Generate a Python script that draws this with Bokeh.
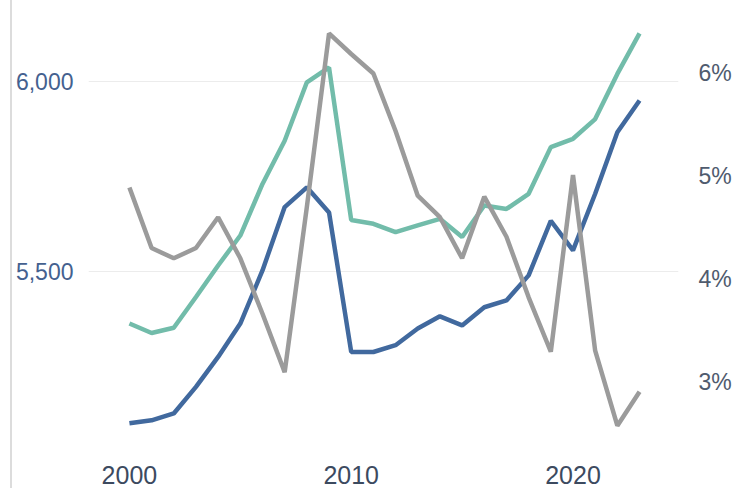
from bokeh.plotting import figure
from bokeh.models import (LinearAxis, Range1d, FixedTicker, NumeralTickFormatter,
                          PrintfTickFormatter, ColumnDataSource)
from bokeh.embed import file_html
from bokeh.resources import INLINE

years = list(range(2000, 2024))
blue_vals = [5099, 5107, 5125, 5195, 5274, 5362, 5502, 5669, 5721, 5655, 5287, 5287,
             5305, 5349, 5381, 5357, 5405, 5423, 5489, 5633, 5555, 5704, 5866, 5950]
teal_vals = [5362, 5337, 5351, 5432, 5515, 5594, 5730, 5844, 5998, 6037, 5635, 5625,
             5603, 5621, 5638, 5590, 5673, 5664, 5704, 5827, 5849, 5901, 6020, 6127]
gray_pct = [4.89, 4.30, 4.20, 4.30, 4.60, 4.20, 3.66, 3.09, 4.70, 6.39, 6.19, 6.00,
            5.44, 4.81, 4.60, 4.20, 4.80, 4.41, 3.82, 3.29, 5.01, 3.30, 2.57, 2.90]
x_ticks = [2000, 2010, 2020]
left_ticks = [5500, 6000]
right_ticks = [3, 4, 5, 6]

src = ColumnDataSource(dict(year=years, blue=blue_vals, teal=teal_vals, gray=gray_pct))

p = figure(width=722, height=488, output_backend="svg", toolbar_location=None,
           x_range=Range1d(1998.155, 2024.757), y_range=Range1d(5027.4, 6213.5),
           min_border_left=76, min_border_right=47, min_border_top=0, min_border_bottom=38,
           styles={"margin-left": "10px", "border-left": "2px solid #dcdcdc"})
p.extra_y_ranges = {"pct": Range1d(2.328, 6.711)}

FONT = "Liberation Sans"

p.line("year", "teal", source=src, line_color="#72bcaa", line_width=4.5)
p.line("year", "blue", source=src, line_color="#41699e", line_width=4.5)
p.line("year", "gray", source=src, y_range_name="pct", line_color="#9b9b9b", line_width=4.5)

p.outline_line_color = None
p.xgrid.grid_line_color = None
p.ygrid.grid_line_color = "#ececec"
p.ygrid.grid_line_width = 1

xa = p.xaxis[0]
xa.ticker = FixedTicker(ticks=x_ticks)
xa.major_label_text_font = FONT
xa.major_label_text_font_size = "25px"
xa.major_label_text_color = "#3c4a5f"
xa.major_label_standoff = 15

ya = p.yaxis[0]
ya.ticker = FixedTicker(ticks=left_ticks)
ya.formatter = NumeralTickFormatter(format="0,0")
ya.major_label_text_font = FONT
ya.major_label_text_font_size = "23px"
ya.major_label_text_color = "#44618f"
ya.major_label_standoff = 15

ra = LinearAxis(y_range_name="pct", ticker=FixedTicker(ticks=right_ticks),
                formatter=PrintfTickFormatter(format="%d%%"))
ra.major_label_text_font = FONT
ra.major_label_text_font_size = "23px"
ra.major_label_text_color = "#4f5b6e"
ra.major_label_standoff = 20
p.add_layout(ra, "right")

for ax in [xa, ya, ra]:
    ax.axis_line_color = None
    ax.major_tick_line_color = None
    ax.minor_tick_line_color = None
    ax.major_tick_out = 0
    ax.major_tick_in = 0
    ax.axis_label_standoff = 0

open("out.html", "w").write(file_html(p, INLINE))
